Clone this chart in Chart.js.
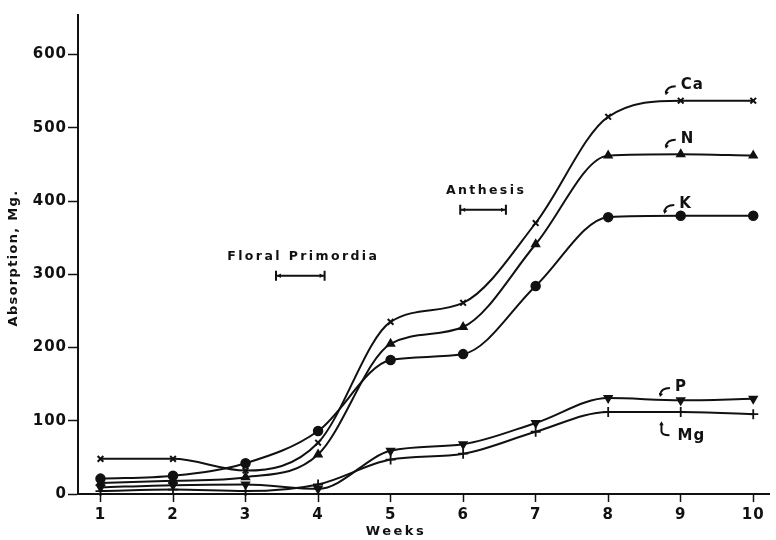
<!DOCTYPE html>
<html>
<head>
<meta charset="utf-8">
<script src="https://cdn.jsdelivr.net/npm/chart.js@4/dist/chart.umd.min.js"></script>
<style>
  html, body { margin: 0; padding: 0; background: #fff; }
  #wrap { width: 776px; height: 540px; position: relative; }
</style>
</head>
<body>
<div id="wrap"><canvas id="chart"></canvas></div>
<script>
const weeks = [1, 2, 3, 4, 5, 6, 7, 8, 9, 10]
const yTicks = [0, 100, 200, 300, 400, 500, 600]

const ca = [48, 48, 32, 70, 235, 261, 370, 515, 537, 537]
const nitrogen = [15, 18, 23, 54, 205, 228, 341, 462, 464, 462]
const potassium = [21, 25, 42, 86, 183, 191, 284, 378, 380, 380]
const phosphorus = [9, 12, 13, 7, 59, 68, 97, 131, 128, 130]
const mg = [4, 6, 4, 13, 47, 55, 85, 112, 112, 109]

// element labels: [text, week, value]
const seriesLabels = [
  ['Ca', 9.0, 558],
  ['N', 9.0, 485],
  ['K', 8.98, 396],
  ['P', 8.92, 146],
  ['Mg', 8.9, 87]
]
// growth stages: [text, from week, to week, value of bracket]
const stages = [
  ['Floral Primordia', 3.42, 4.09, 298],
  ['Anthesis', 5.96, 6.59, 388]
]

const FONT = '"DejaVu Sans", sans-serif'

function series(label, values, style, extra) {
  return Object.assign({
    label: label,
    data: weeks.map((w, i) => ({ x: w, y: values[i] })),
    borderColor: '#111',
    backgroundColor: '#111',
    borderWidth: 2,
    pointStyle: style,
    pointRadius: 4.5,
    pointBorderWidth: 1.5,
    pointBorderColor: '#111',
    pointBackgroundColor: '#111',
    cubicInterpolationMode: 'monotone',
    clip: false
  }, extra || {})
}

function arrowHead(ctx, x, y, ang) {
  ctx.beginPath()
  ctx.moveTo(x, y)
  ctx.lineTo(x - 4.5 * Math.cos(ang - 0.5), y - 4.5 * Math.sin(ang - 0.5))
  ctx.lineTo(x - 4.5 * Math.cos(ang + 0.5), y - 4.5 * Math.sin(ang + 0.5))
  ctx.closePath()
  ctx.fill()
}

const decorations = {
  id: 'decorations',
  beforeDraw(chart) {
    chart.ctx.letterSpacing = '1px'
  },
  afterDraw(chart) {
    const ctx = chart.ctx
    const xs = chart.scales.x, ys = chart.scales.y
    ctx.save()
    ctx.fillStyle = '#111'
    ctx.strokeStyle = '#111'
    ctx.textBaseline = 'middle'

    // axis titles
    ctx.font = 'bold 13px ' + FONT
    ctx.letterSpacing = '2.5px'
    ctx.textAlign = 'center'
    ctx.fillText('Weeks', 396, 532)
    ctx.save()
    ctx.translate(14, 258)
    ctx.rotate(-Math.PI / 2)
    ctx.letterSpacing = '1.3px'
    ctx.fillText('Absorption, Mg.', 0, 0)
    ctx.restore()

    // stage brackets
    stages.forEach(s => {
      const x1 = xs.getPixelForValue(s[1]), x2 = xs.getPixelForValue(s[2])
      const y = ys.getPixelForValue(s[3])
      ctx.lineWidth = 2
      ctx.beginPath()
      ctx.moveTo(x1, y); ctx.lineTo(x2, y)
      ctx.moveTo(x1, y - 5); ctx.lineTo(x1, y + 5)
      ctx.moveTo(x2, y - 5); ctx.lineTo(x2, y + 5)
      ctx.stroke()
      arrowHead(ctx, x1 + 1, y, Math.PI)
      arrowHead(ctx, x2 - 1, y, 0)
      ctx.font = 'bold 12.5px ' + FONT
      ctx.letterSpacing = '2.4px'
      ctx.textAlign = 'center'
      ctx.fillText(s[0], (x1 + x2) / 2 + 3, y - 19)
    })

    // element labels with hooked arrows
    seriesLabels.forEach(l => {
      const x = xs.getPixelForValue(l[1]), y = ys.getPixelForValue(l[2])
      ctx.font = 'bold 15px ' + FONT
      ctx.letterSpacing = '1px'
      ctx.textAlign = 'left'
      ctx.lineWidth = 2
      if (l[0] === 'Mg') {
        ctx.fillText(l[0], x + 4, y + 6)
        ctx.beginPath()
        ctx.moveTo(x - 12, y - 7)
        ctx.lineTo(x - 12, y + 1)
        ctx.quadraticCurveTo(x - 12, y + 5, x - 4, y + 5)
        ctx.stroke()
        arrowHead(ctx, x - 12, y - 9, -Math.PI / 2)
      } else {
        ctx.fillText(l[0], x, y)
        ctx.beginPath()
        ctx.moveTo(x - 5, y + 1)
        ctx.quadraticCurveTo(x - 14, y + 1, x - 15, y + 8)
        ctx.stroke()
        arrowHead(ctx, x - 15, y + 10, Math.PI / 2 + 0.3)
      }
    })
    ctx.restore()
  }
}

const ctx = document.getElementById('chart').getContext('2d')
new Chart(ctx, {
  type: 'line',
  data: {
    datasets: [
      series('Ca', ca, 'crossRot', { pointRadius: 4, pointBorderWidth: 2 }),
      series('N', nitrogen, 'triangle'),
      series('K', potassium, 'circle'),
      series('P', phosphorus, 'triangle', { pointRotation: 180 }),
      series('Mg', mg, 'cross', { pointRadius: 5, pointBorderWidth: 1.8 })
    ]
  },
  options: {
    responsive: true,
    maintainAspectRatio: false,
    animation: false,
    layout: { padding: { top: 15, right: 0, left: 0, bottom: 0 } },
    plugins: { legend: { display: false }, tooltip: { enabled: false } },
    scales: {
      x: {
        type: 'linear',
        min: 0.69,
        max: 10.22,
        afterBuildTicks: s => { s.ticks = weeks.map(v => ({ value: v })) },
        afterFit: s => { s.height = 46 },
        grid: { drawOnChartArea: false, drawTicks: true, tickLength: 8, tickWidth: 1.5, color: '#111' },
        border: { display: true, color: '#111', width: 2 },
        ticks: { color: '#111', padding: 4, font: { family: FONT, size: 15, weight: 'bold' } }
      },
      y: {
        min: 0,
        max: 654,
        afterBuildTicks: s => { s.ticks = yTicks.map(v => ({ value: v })) },
        afterFit: s => { s.width = 78 },
        grid: { drawOnChartArea: false, drawTicks: true, tickLength: 10, tickWidth: 1.5, color: '#111' },
        border: { display: true, color: '#111', width: 2 },
        ticks: { color: '#111', padding: 1, font: { family: FONT, size: 15, weight: 'bold' } }
      }
    }
  },
  plugins: [decorations]
})
</script>
</body>
</html>
